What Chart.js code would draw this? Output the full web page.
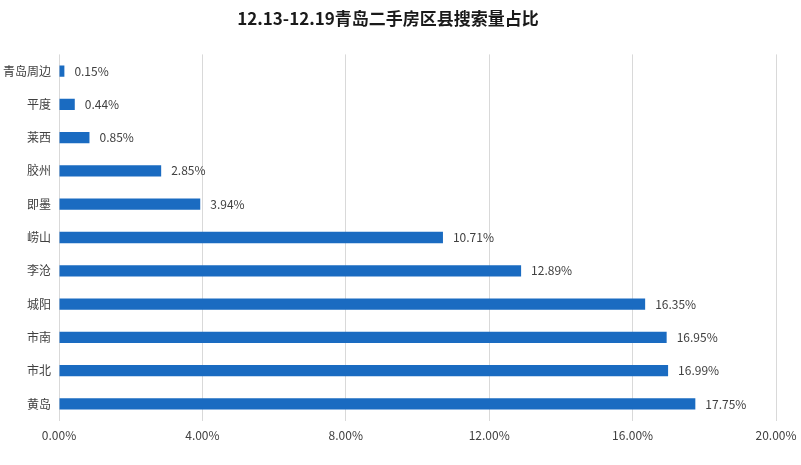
<!DOCTYPE html>
<html>
<head>
<meta charset="utf-8">
<script src="https://cdn.jsdelivr.net/npm/chart.js@4"></script>
<style>
  html, body { margin: 0; padding: 0; background: #fff; }
  #wrap { width: 801px; height: 465px; position: relative; }
</style>
</head>
<body>
<div id="wrap"><canvas id="districtChart"></canvas></div>
<script>
const districts = ["青岛周边", "平度", "莱西", "胶州", "即墨", "崂山", "李沧", "城阳", "市南", "市北", "黄岛"];
const shares = [0.15, 0.44, 0.85, 2.85, 3.94, 10.71, 12.89, 16.35, 16.95, 16.99, 17.75];
const xTicks = [0, 4, 8, 12, 16, 20];

const fontFamily = "'Noto Sans CJK SC', 'Noto Sans', sans-serif";

// draw the value text just past the end of each bar
const valueLabels = {
  id: "valueLabels",
  afterDatasetsDraw(chart) {
    const ctx = chart.ctx;
    const meta = chart.getDatasetMeta(0);
    ctx.save();
    ctx.font = "12px " + fontFamily;
    ctx.fillStyle = "#404040";
    ctx.textAlign = "left";
    ctx.textBaseline = "middle";
    meta.data.forEach((bar, i) => {
      ctx.fillText(shares[i].toFixed(2) + "%", bar.x + 10, bar.y);
    });
    ctx.restore();
  },
};

const ctx = document.getElementById("districtChart").getContext("2d");

const districtChart = new Chart(ctx, {
  type: "bar",
  data: {
    labels: districts,
    datasets: [
      {
        data: shares,
        backgroundColor: "#1a6bc1",
        barPercentage: 0.34,
        categoryPercentage: 1,
      },
    ],
  },
  plugins: [valueLabels],
  options: {
    indexAxis: "y",
    responsive: true,
    maintainAspectRatio: false,
    animation: false,
    layout: {
      padding: { left: 0, right: 25, top: 8, bottom: 14 },
    },
    scales: {
      x: {
        min: 0,
        max: 20,
        afterBuildTicks: (scale) => {
          scale.ticks = xTicks.map((v) => ({ value: v }));
        },
        afterFit: (scale) => {
          scale.paddingRight = 0;
        },
        ticks: {
          color: "#404040",
          font: { size: 12, family: fontFamily },
          padding: 8,
          callback: (v) => Number(v).toFixed(2) + "%",
          maxRotation: 0,
        },
        grid: { color: "#d9d9d9", drawTicks: false },
        border: { display: false },
      },
      y: {
        afterFit: (scale) => {
          scale.width = 59;
        },
        ticks: {
          color: "#404040",
          font: { size: 12, family: fontFamily },
          padding: 8,
        },
        grid: { display: false, drawTicks: false },
        border: { display: false },
      },
    },
    plugins: {
      legend: { display: false },
      tooltip: { enabled: false },
      title: {
        display: true,
        text: "12.13-12.19青岛二手房区县搜索量占比",
        color: "#1a1a1a",
        font: { size: 17, weight: "bold", family: fontFamily },
        padding: { top: 0, bottom: 26 },
      },
    },
  },
});
</script>
</body>
</html>
